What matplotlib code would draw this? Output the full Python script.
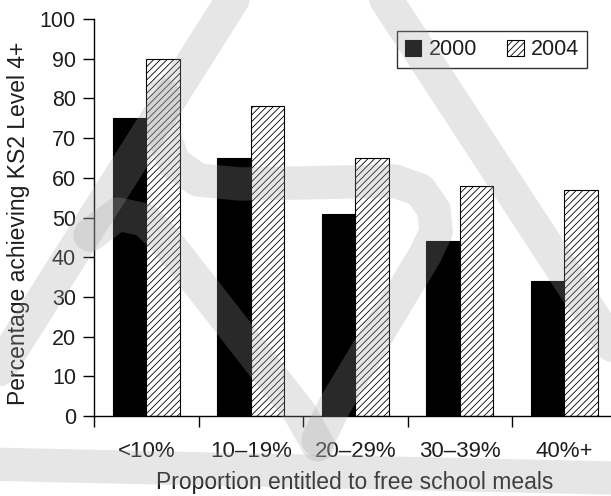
import matplotlib
matplotlib.use("Agg")
import matplotlib.pyplot as plt
from matplotlib.path import Path
from matplotlib.patches import PathPatch
import numpy as np

categories = ["<10%", "10\u201319%", "20\u201329%", "30\u201339%", "40%+"]
series_names = ["2000", "2004"]
values_2000 = [75, 65, 51, 44, 34]
values_2004 = [90, 78, 65, 58, 57]
y_ticks = [0, 10, 20, 30, 40, 50, 60, 70, 80, 90, 100]

plt.rcParams['font.family'] = ['Liberation Sans', 'DejaVu Sans']
plt.rcParams['hatch.linewidth'] = 0.6
txt = '#1e1e1e'

W, H = 611, 496
fig = plt.figure(figsize=(W / 100, H / 100), dpi=100)
ax = fig.add_axes([94 / W, 80 / H, 522.5 / W, 397 / H])

x = np.arange(len(categories))
w = 0.32
ax.bar(x - w / 2, values_2000, w, color='black', edgecolor='black', linewidth=0.8, label=series_names[0])
ax.bar(x + w / 2, values_2004, w, color='white', edgecolor='black', linewidth=0.8,
       hatch='/////', label=series_names[1])

ax.set_xlim(-0.5, len(categories) - 0.5)
ax.set_ylim(0, 100)
ax.set_yticks(y_ticks)
ax.set_yticklabels([str(v) for v in y_ticks])
ax.set_xticks(np.arange(len(categories) + 1) - 0.5)
ax.set_xticklabels([])
ax.set_xticks(x, minor=True)
ax.set_xticklabels(categories, minor=True)
ax.tick_params(axis='x', which='major', length=8, width=1, direction='out')
ax.tick_params(axis='x', which='minor', length=0, pad=18, labelsize=16, labelcolor=txt)
ax.tick_params(axis='y', length=8, width=1, direction='out', pad=5, labelsize=15.5, labelcolor=txt)

for s in ['top', 'right']:
    ax.spines[s].set_visible(False)
for s in ['left', 'bottom']:
    ax.spines[s].set_linewidth(1)

ax.set_ylabel("Percentage achieving KS2 Level 4+", fontsize=16.5, color=txt)
ax.set_xlabel("Proportion entitled to free school meals", fontsize=16.5, color=txt)
ax.xaxis.label.set_verticalalignment('center')
ax.yaxis.label.set_verticalalignment('center')
ax.xaxis.set_label_coords((355 - 94) / 522.5, -(482 - 416) / 397)
ax.yaxis.set_label_coords(-(94 - 19) / 522.5, (416 - 223) / 397)

leg = ax.legend(ncol=2, loc='upper left',
                bbox_to_anchor=((397 - 94) / 522.5, 1 - (31 - 19) / 397),
                frameon=True, fancybox=False, fontsize=15.5, handlelength=0.75, handleheight=0.75,
                handletextpad=0.35, columnspacing=1.4, borderpad=0.38, borderaxespad=0)
leg.get_frame().set_edgecolor('black')
leg.get_frame().set_linewidth(1)
for t in leg.get_texts():
    t.set_color(txt)

# faint watermark logo drawn over the chart (pixel coordinates of the image)
def px(xp, yp):
    return (xp / W, 1 - yp / H)

def stroke(points, closed=False):
    pts = [px(a, b) for a, b in points]
    if closed:
        pts = pts + pts[:2]
    codes = [Path.MOVETO] + [Path.LINETO] * (len(pts) - 1)
    p = PathPatch(Path(pts, codes), transform=fig.transFigure, facecolor='none',
                  edgecolor='#a1a1a1', alpha=0.26, linewidth=24, joinstyle='round',
                  capstyle='round', zorder=10)
    fig.patches.append(p)

stroke([(-60, 463), (308, -120), (700, 480)], closed=True)
stroke([(163, 95), (164, 135), (174, 163), (198, 180), (240, 184), (300, 183), (395, 181),
        (420, 190), (434, 210), (436, 232), (425, 255), (335, 405), (318, 440)])
stroke([(90, 235), (118, 214), (145, 220), (165, 240), (300, 413), (318, 445)])

fig.savefig("out.png", dpi=100)
